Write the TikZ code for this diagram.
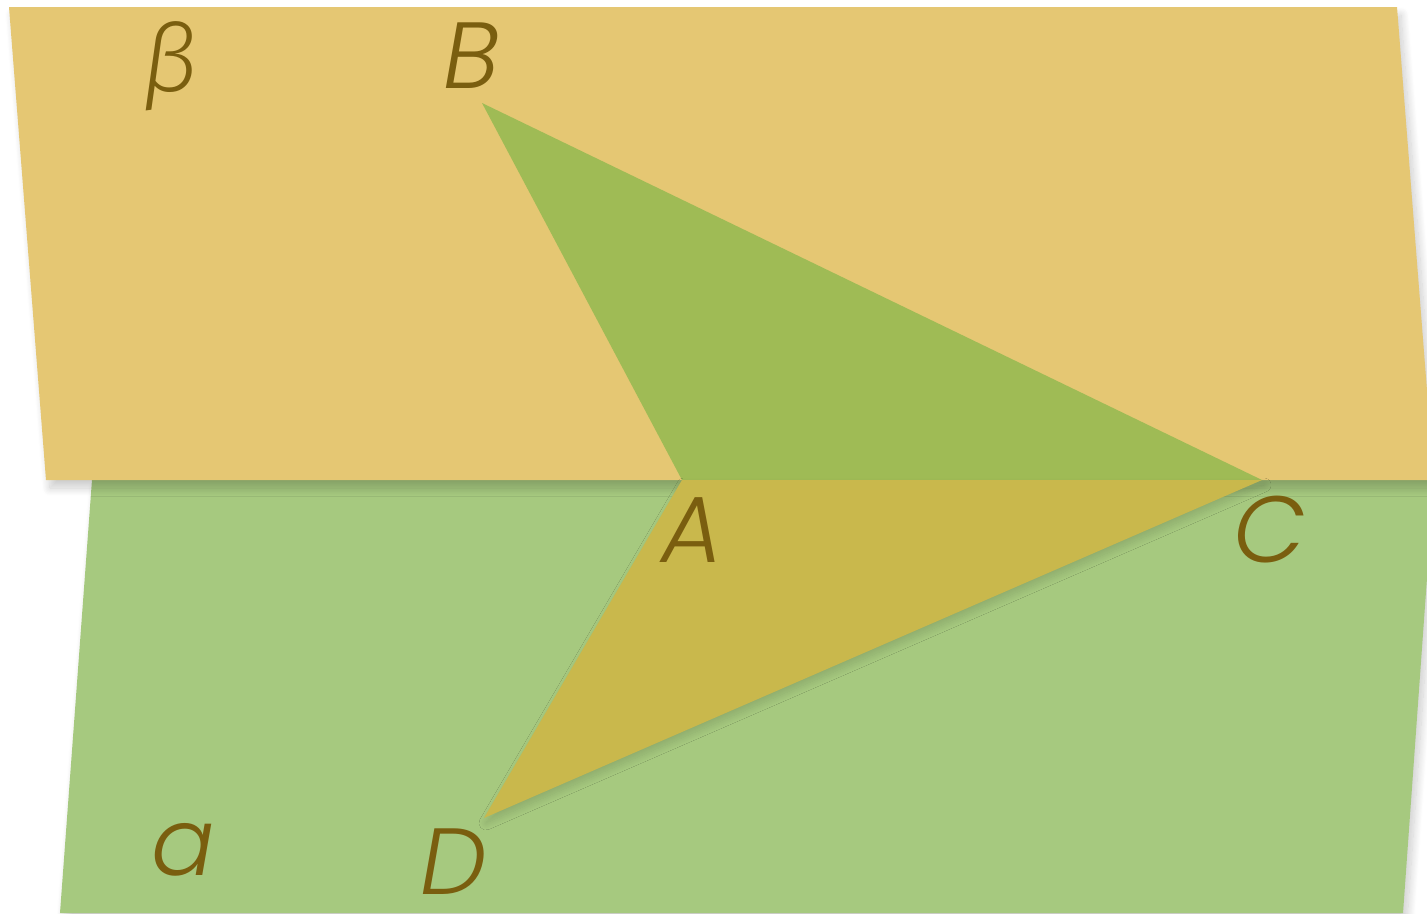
\documentclass[tikz,border=0pt]{standalone}
\usepackage{fontspec}
\setmainfont{Poppins Light}[ItalicFont=Poppins Light Italic]
\newfontfamily\greekfont{Fira Sans Light}[ItalicFont=Fira Sans Light Italic]
\usetikzlibrary{shadows.blur}
\definecolor{betacol}{HTML}{E5C773}
\definecolor{alphacol}{HTML}{A6C97F}
\definecolor{uppertri}{HTML}{9FBB55}
\definecolor{lowertri}{HTML}{C9B84C}
\definecolor{labelcol}{HTML}{7A5E0F}
\tikzset{
  lbl/.style={text=labelcol, font=\fontsize{94}{98}\selectfont\itshape, inner sep=0pt},
  plane/.style={blur shadow={shadow xshift=4pt, shadow yshift=-8pt, shadow blur steps=16, shadow blur radius=8pt, shadow opacity=20}},
  trishadow/.style={blur shadow={shadow xshift=2pt, shadow yshift=-5pt, shadow blur steps=16, shadow blur radius=7pt, shadow opacity=15}},
}
\begin{document}
\begin{tikzpicture}[x=1pt,y=-1pt]
\useasboundingbox (0,0) rectangle (1427,913);
\clip (0,0) rectangle (1427,913);
% plane alpha
\coordinate (a1) at (92,480);
\coordinate (a2) at (1434,480);
\coordinate (a3) at (1403,913);
\coordinate (a4) at (60,913);
\fill[alphacol, plane] (a1) -- (a2) -- (a3) -- (a4) -- cycle;
% plane beta
\coordinate (b1) at (9,7);
\coordinate (b2) at (1397,7);
\coordinate (b3) at (1434,480);
\coordinate (b4) at (46,480);
\fill[betacol, plane] (b1) -- (b2) -- (b3) -- (b4) -- cycle;
% points
\coordinate (B) at (482,103);
\coordinate (A) at (682,480);
\coordinate (C) at (1262,480);
\coordinate (D) at (484,818);
\fill[uppertri] (B) -- (A) -- (C) -- cycle;
\fill[lowertri, trishadow] (A) -- (C) -- (D) -- cycle;
% labels
\node[lbl] (lbeta) at (170,66) {\greekfont\itshape β};
\node[lbl] (lB) at (472,56) {B};
\node[lbl] (lA) at (692,530) {A};
\node[lbl] (lC) at (1270,530) {C};
\node[lbl] (la) at (183,850) {a};
\node[lbl] (lD) at (454,862) {D};
\end{tikzpicture}
\end{document}
